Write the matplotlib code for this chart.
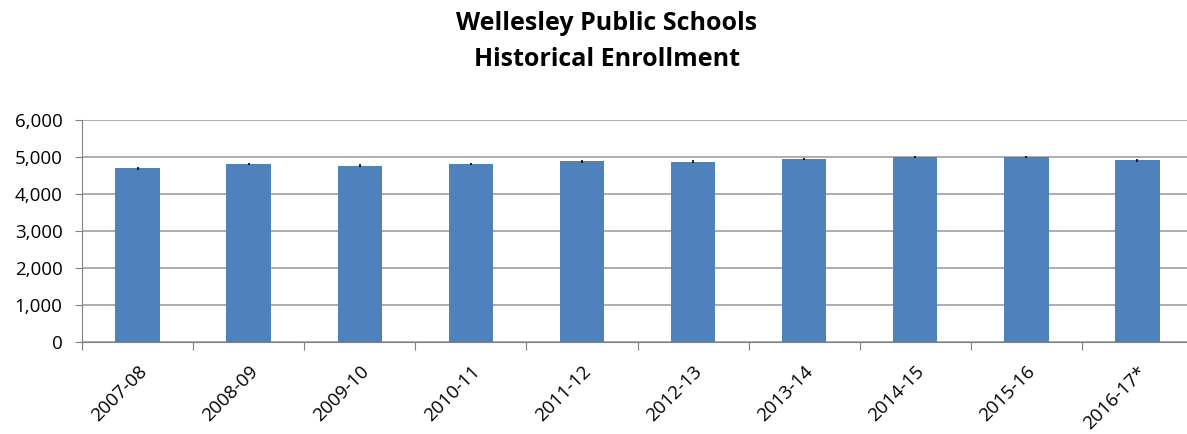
import matplotlib
matplotlib.use("Agg")
import matplotlib.pyplot as plt
import numpy as np

# datos
anios = ['2007-08', '2008-09', '2009-10', '2010-11', '2011-12',
         '2012-13', '2013-14', '2014-15', '2015-16', '2016-17*']
matricula = [4694, 4810, 4767, 4812, 4880, 4872, 4946, 4998, 4995, 4910]
error = [35, 35, 35, 35, 35, 35, 35, 35, 35, 35]

plt.rcParams['font.family'] = ['Open Sans', 'DejaVu Sans']

fig = plt.figure(figsize=(11.87, 4.34), dpi=100)
# el area de grafico se sale por la derecha, como en el original
ax = fig.add_axes([82/1187, 92/434, 1111/1187, 222/434])

x = np.arange(len(anios))
ax.bar(x, matricula, width=0.4, color='#4f81bd', zorder=3,
       yerr=error, ecolor='black', error_kw=dict(elinewidth=1.2, capsize=0))

ax.set_xlim(-0.5, len(anios) - 0.5)
ax.set_ylim(0, 6000)
ax.set_yticks(np.arange(0, 6001, 1000))
ax.set_yticklabels(['{:,}'.format(v) for v in range(0, 6001, 1000)], fontsize=13.5)
ax.yaxis.grid(True, color='#a0a0a0', linewidth=1.2, zorder=0)

# ticks del eje x entre categorias
ax.set_xticks(np.arange(-0.5, len(anios), 1.0))
ax.set_xticklabels([])
ax.set_xticks(x, minor=True)
ax.set_xticklabels(anios, minor=True, rotation=45, ha='right', rotation_mode='anchor', fontsize=13.5)
ax.tick_params(axis='x', which='major', direction='out', length=6, color='#808080')
ax.tick_params(axis='x', which='minor', length=0, pad=15)
ax.tick_params(axis='y', direction='out', length=5, color='#808080', pad=9)

for s in ['top', 'right']:
    ax.spines[s].set_visible(False)
for s in ['left', 'bottom']:
    ax.spines[s].set_color('#808080')

fig.text(607/1187, 0.975, 'Wellesley Public Schools\nHistorical Enrollment',
         ha='center', va='top', fontsize=18, fontweight='bold', linespacing=1.6)

fig.savefig('out.png', dpi=100)
